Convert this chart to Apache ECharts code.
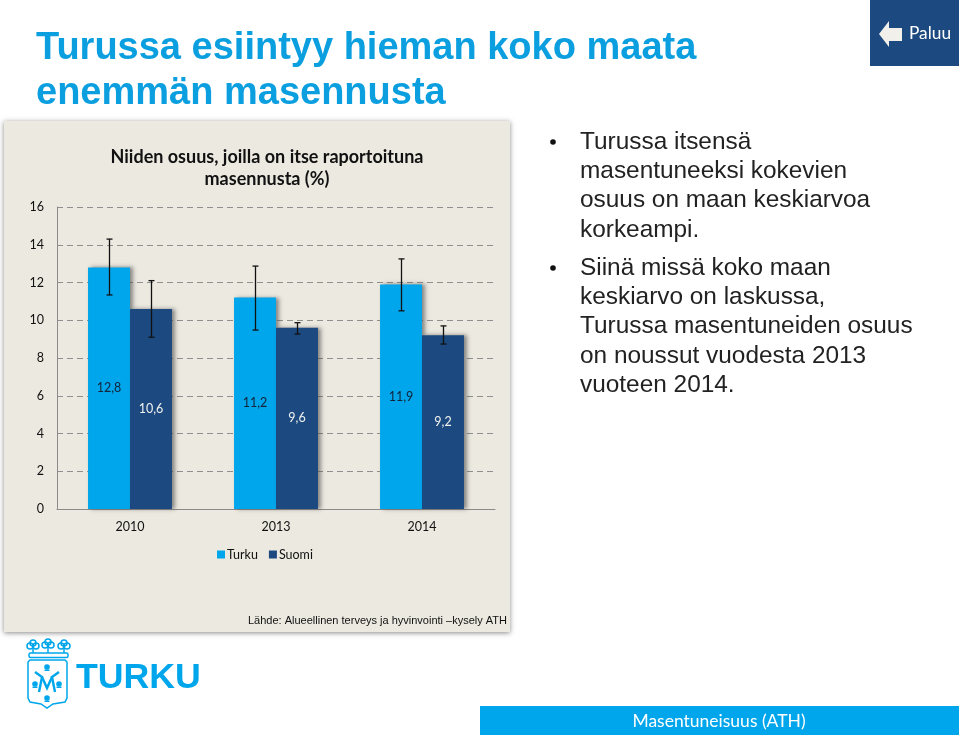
<!DOCTYPE html>
<html><head><meta charset="utf-8">
<style>html,body{margin:0;padding:0;background:#fff}#c{width:959px;height:735px}</style>
<script src="https://cdn.jsdelivr.net/npm/echarts@6/dist/echarts.min.js"></script>
</head><body><div id="c"></div>
<script>
const categories = ['2010','2013','2014'];
const turku = [12.8,11.2,11.9];
const suomi = [10.6,9.6,9.2];
const turkuLow = [11.34,9.48,10.5];
const turkuHigh = [14.3,12.87,13.25];
const suomiLow = [9.1,9.27,8.74];
const suomiHigh = [12.1,9.87,9.7];
const heading = ['Turussa esiintyy hieman koko maata','enemmän masennusta'];
const chartTitle = 'Niiden osuus, joilla on itse raportoituna\nmasennusta (%)';
const source = 'Lähde: Alueellinen terveys ja hyvinvointi –kysely ATH';
const bullets = [
  {y:141, lines:['Turussa itsensä','masentuneeksi kokevien','osuus on maan keskiarvoa','korkeampi.']},
  {y:267, lines:['Siinä missä koko maan','keskiarvo on laskussa,','Turussa masentuneiden osuus','on noussut vuodesta 2013','vuoteen 2014.']}
];
const BLUE='#00A6EB', NAVY='#1C4A80', PANEL='#ECE9E0';
const fmt = v => String(v).replace('.',',');
const chart = echarts.init(document.getElementById('c'),null,{renderer:'canvas'});

function errSeries(name,low,high,dir){
  return {type:'custom',name:name,silent:true,z:5,
    data:categories.map((c,i)=>[i,low[i],high[i]]),
    renderItem(params,api){
      const w=api.size([1,0])[0]*0.1438;
      const a=api.coord([api.value(0),api.value(1)]);
      const b=api.coord([api.value(0),api.value(2)]);
      const x=Math.round(a[0]+dir*w)+0.5, s={stroke:'#111',lineWidth:1.3};
      return {type:'group',children:[
        {type:'line',shape:{x1:x,y1:a[1],x2:x,y2:b[1]},style:s},
        {type:'line',shape:{x1:x-3,y1:a[1],x2:x+3,y2:a[1]},style:s},
        {type:'line',shape:{x1:x-3,y1:b[1],x2:x+3,y2:b[1]},style:s}
      ]};
    }};
}
function barSeries(name,vals,color,labelColor){
  return {type:'bar',name:name,data:vals,barGap:0,barCategoryGap:'42.5%',
    itemStyle:{color:color,shadowColor:'rgba(70,70,70,0.6)',shadowBlur:4,shadowOffsetX:3,shadowOffsetY:0},
    label:{show:true,position:'inside',color:labelColor,fontFamily:'Lato',fontSize:12.5,formatter:p=>fmt(p.value)}};
}
const gfx=[];
gfx.push({type:'rect',z:-10,shape:{x:4,y:121,width:506,height:511},
  style:{fill:PANEL,shadowColor:'rgba(60,60,60,0.6)',shadowBlur:5,shadowOffsetY:1}});
heading.forEach((t,i)=>gfx.push({type:'text',x:36,y:49+i*44.5,style:{text:t,fill:'#0C9FE0',font:'bold 38px "Liberation Sans"',textVerticalAlign:'middle'}}));
gfx.push({type:'text',x:507,y:621,style:{text:source,fill:'#111',font:'11px "Liberation Sans"',textAlign:'right',textVerticalAlign:'middle'}});
bullets.forEach(b=>{
  gfx.push({type:'circle',shape:{cx:553,cy:b.y+1,r:2.8},style:{fill:'#111'}});
  b.lines.forEach((t,i)=>gfx.push({type:'text',x:580,y:b.y+1+i*29.3,style:{text:t,fill:'#222',font:'24.4px "Liberation Sans"',textVerticalAlign:'middle'}}));
});
// Paluu button
gfx.push({type:'rect',shape:{x:870,y:0,width:89,height:66},style:{fill:NAVY}});
gfx.push({type:'polygon',shape:{points:[[879,34],[889,21],[889,28],[902,28],[902,41],[889,41],[889,47]]},style:{fill:'#F2F0EA'}});
gfx.push({type:'text',x:909,y:33,style:{text:'Paluu',fill:'#fff',font:'17.3px Lato',textVerticalAlign:'middle'}});
// bottom band
gfx.push({type:'rect',shape:{x:480,y:706,width:479,height:29},style:{fill:BLUE}});
gfx.push({type:'text',x:719,y:721,style:{text:'Masentuneisuus (ATH)',fill:'#fff',font:'17.5px Lato',textAlign:'center',textVerticalAlign:'middle'}});
// logo
gfx.push({type:'text',x:76,y:678,style:{text:'TURKU',fill:BLUE,font:'bold 35.7px "Liberation Sans"',textVerticalAlign:'middle'}});
const lineS={fill:'none',stroke:BLUE,lineWidth:1.5};
// shield
gfx.push({type:'polygon',shape:{points:[[30,660],[65,660],[67,662],[67,698],[65,702],[53,704],[47,708],[41,704],[30,702],[28,698],[28,662]]},style:lineS});
// crown
gfx.push({type:'rect',shape:{x:29,y:653,width:39,height:4.5,r:1.5},style:lineS});
[[33,646],[48,645],[64,646]].forEach(p=>{
  gfx.push({type:'circle',shape:{cx:p[0]-3,cy:p[1],r:3},style:lineS});
  gfx.push({type:'circle',shape:{cx:p[0]+3,cy:p[1],r:3},style:lineS});
  gfx.push({type:'circle',shape:{cx:p[0],cy:p[1]-3,r:3},style:lineS});
  gfx.push({type:'line',shape:{x1:p[0],y1:p[1]+2,x2:p[0],y2:653},style:lineS});
});
// shield figure
gfx.push({type:'polyline',shape:{points:[[35,672],[42,677],[39,692]]},style:{fill:'none',stroke:BLUE,lineWidth:2.4}});
gfx.push({type:'polyline',shape:{points:[[59,672],[52,677],[55,692]]},style:{fill:'none',stroke:BLUE,lineWidth:2.4}});
gfx.push({type:'polyline',shape:{points:[[42,677],[47,688],[52,677]]},style:{fill:'none',stroke:BLUE,lineWidth:2.4}});
[[47,667],[35,684],[59,684],[47,698]].forEach(p=>{
  gfx.push({type:'circle',shape:{cx:p[0],cy:p[1],r:2.8},style:{fill:BLUE}});
  gfx.push({type:'rect',shape:{x:p[0]-2.5,y:p[1]+2.5,width:5,height:1.5},style:{fill:BLUE}});
});

chart.setOption({
  animation:false,backgroundColor:'#fff',
  title:{text:chartTitle,left:262,top:141,textAlign:'center',
    textStyle:{fontFamily:'Lato',fontWeight:'bold',fontSize:18,color:'#111',lineHeight:22}},
  legend:{data:['Turku','Suomi'],left:212,top:543,icon:'rect',itemWidth:8,itemHeight:8,itemGap:11,
    textStyle:{fontFamily:'Lato',fontSize:12.5,color:'#111',padding:[0,0,0,-3]}},
  grid:{left:57,right:464,top:207,height:302},
  xAxis:{type:'category',data:categories,axisTick:{show:false},
    axisLine:{lineStyle:{color:'#8a8a8a',width:1}},
    axisLabel:{fontFamily:'Lato',fontSize:12.5,color:'#111',margin:11}},
  yAxis:{type:'value',min:0,max:16,interval:2,
    axisLine:{show:true,lineStyle:{color:'#8a8a8a'}},axisTick:{show:false},
    axisLabel:{fontFamily:'Lato',fontSize:12.5,color:'#111',margin:13},
    splitLine:{lineStyle:{color:'#8f8f8f',type:[6,4],width:1}}},
  graphic:{elements:gfx},
  series:[
    barSeries('Turku',turku,BLUE,'#12233a'),
    barSeries('Suomi',suomi,NAVY,'#f1f1ee'),
    errSeries('eT',turkuLow,turkuHigh,-1),
    errSeries('eS',suomiLow,suomiHigh,1)
  ]
});
</script></body></html>
